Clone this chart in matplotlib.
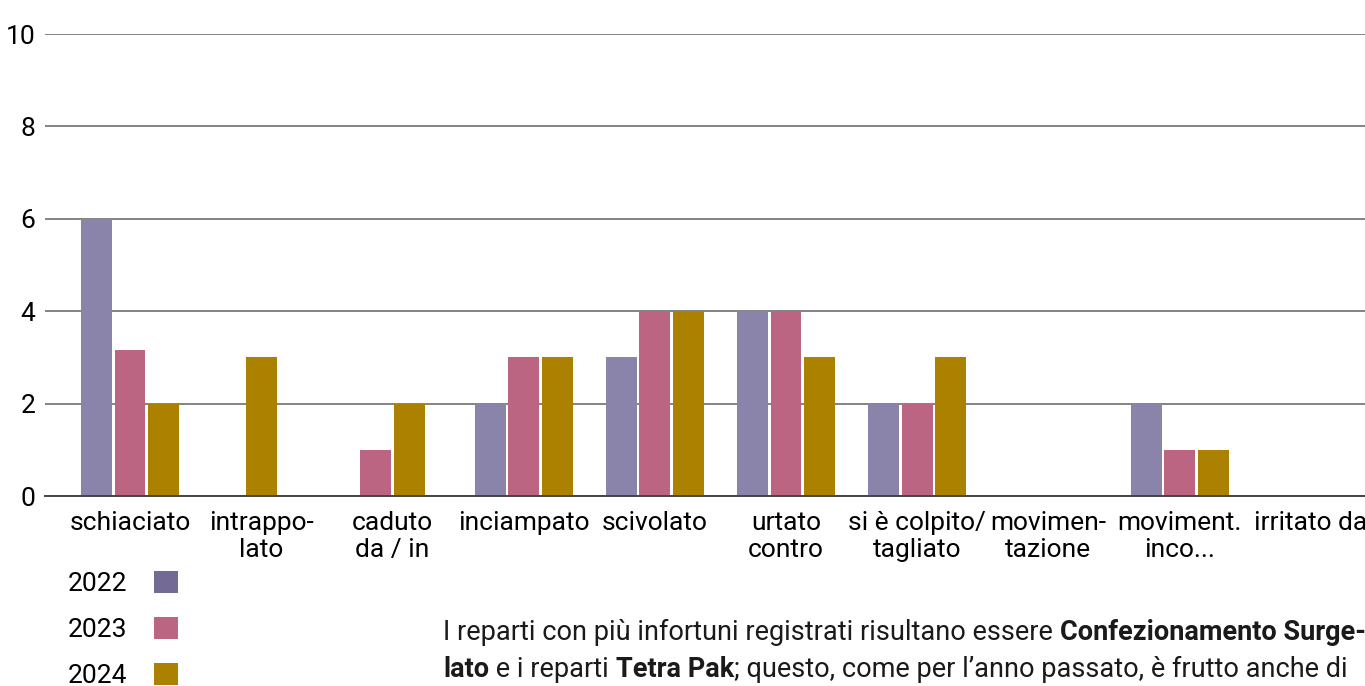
import numpy as np
import matplotlib
matplotlib.use("Agg")
import matplotlib.pyplot as plt
from matplotlib import font_manager
from matplotlib.patches import Patch

# pick a condensed font if there is one
names = {f.name for f in font_manager.fontManager.ttflist}
if "Liberation Sans Narrow" in names:
    FONT = ["Liberation Sans Narrow", "DejaVu Sans"]
else:
    FONT = ["Roboto", "DejaVu Sans"]
plt.rcParams['font.family'] = FONT

categorie = ["schiaciato", "intrappo-\nlato", "caduto\nda / in", "inciampato", "scivolato",
             "urtato\ncontro", "si è colpito/\ntagliato", "movimen-\ntazione",
             "moviment.\ninco...", "irritato da"]
anni = ["2022", "2023", "2024"]
v2022 = [6, None, None, 2, 3, 4, 2, None, 2, None]
v2023 = [3.15, None, 1, 3, 4, 4, 2, None, 1, None]
v2024 = [2, 3, 2, 3, 4, 3, 3, None, 1, None]

col_bar = ["#8a84aa", "#bc6583", "#ac8100"]
col_leg = ["#736a96", "#bc6583", "#ac8100"]

W, H = 1365, 686
fig = plt.figure(figsize=(W / 100, H / 100), dpi=100)
ax = fig.add_axes([45 / W, 1 - 496 / H, 1 - 45 / W, (496 - 34) / H])

serie = [v2022, v2023, v2024]
pitch = 0.255
width = 0.236
x = np.arange(len(categorie))
for i in range(len(categorie)):
    present = [k for k in range(3) if serie[k][i] is not None]
    n = len(present)
    for j, k in enumerate(present):
        off = (j - (n - 1) / 2) * pitch
        ax.bar(x[i] + off, serie[k][i], width=width, color=col_bar[k], zorder=3)

ax.set_ylim(0, 10)
ax.set_yticks([0, 2, 4, 6, 8, 10])
ax.set_xlim((45 - 130) / 131.2, (W - 130) / 131.2)
ax.set_xticks(x)
ax.set_xticklabels(categorie, fontsize=19, multialignment="center", linespacing=1.15)
ax.tick_params(axis="x", length=0, pad=11)
ax.tick_params(axis="y", length=0, pad=7, labelsize=19)
ax.yaxis.grid(True, color="#6e6e6e", lw=1.2, zorder=0)
for s in ["top", "right", "left"]:
    ax.spines[s].set_visible(False)
ax.spines["bottom"].set_color("#444444")
ax.spines["bottom"].set_linewidth(1.4)
ax.spines["bottom"].set_zorder(4)

handles = [Patch(facecolor=c, edgecolor="none") for c in col_leg]
fig.legend(handles, anni, loc="upper left", bbox_to_anchor=(68 / W, 1 - 571 / H),
           frameon=False, markerfirst=False, fontsize=19, handlelength=0.9,
           handleheight=0.9, handletextpad=1.0, labelspacing=0.8,
           borderpad=0, borderaxespad=0)

# testo sotto il grafico, pezzi concatenati
righe = [
    [("I reparti con più infortuni registrati risultano essere ", "normal"),
     ("Confezionamento Surge-", "bold")],
    [("lato", "bold"), (" e i reparti ", "normal"), ("Tetra Pak", "bold"),
     ("; questo, come per l’anno passato, è frutto anche di", "normal")],
]
ys = [1 - 640 / H, 1 - 677 / H]
for riga, y in zip(righe, ys):
    prev = fig.text(443 / W, y, riga[0][0], fontsize=19.5, fontweight=riga[0][1],
                    va="baseline", ha="left", color="#1a1a1a")
    for testo, peso in riga[1:]:
        prev = ax.annotate(testo, xy=(1, 0), xycoords=prev, va="bottom", ha="left",
                           fontsize=19.5, fontweight=peso, color="#1a1a1a",
                           annotation_clip=False)

fig.savefig("out.png", dpi=100)
